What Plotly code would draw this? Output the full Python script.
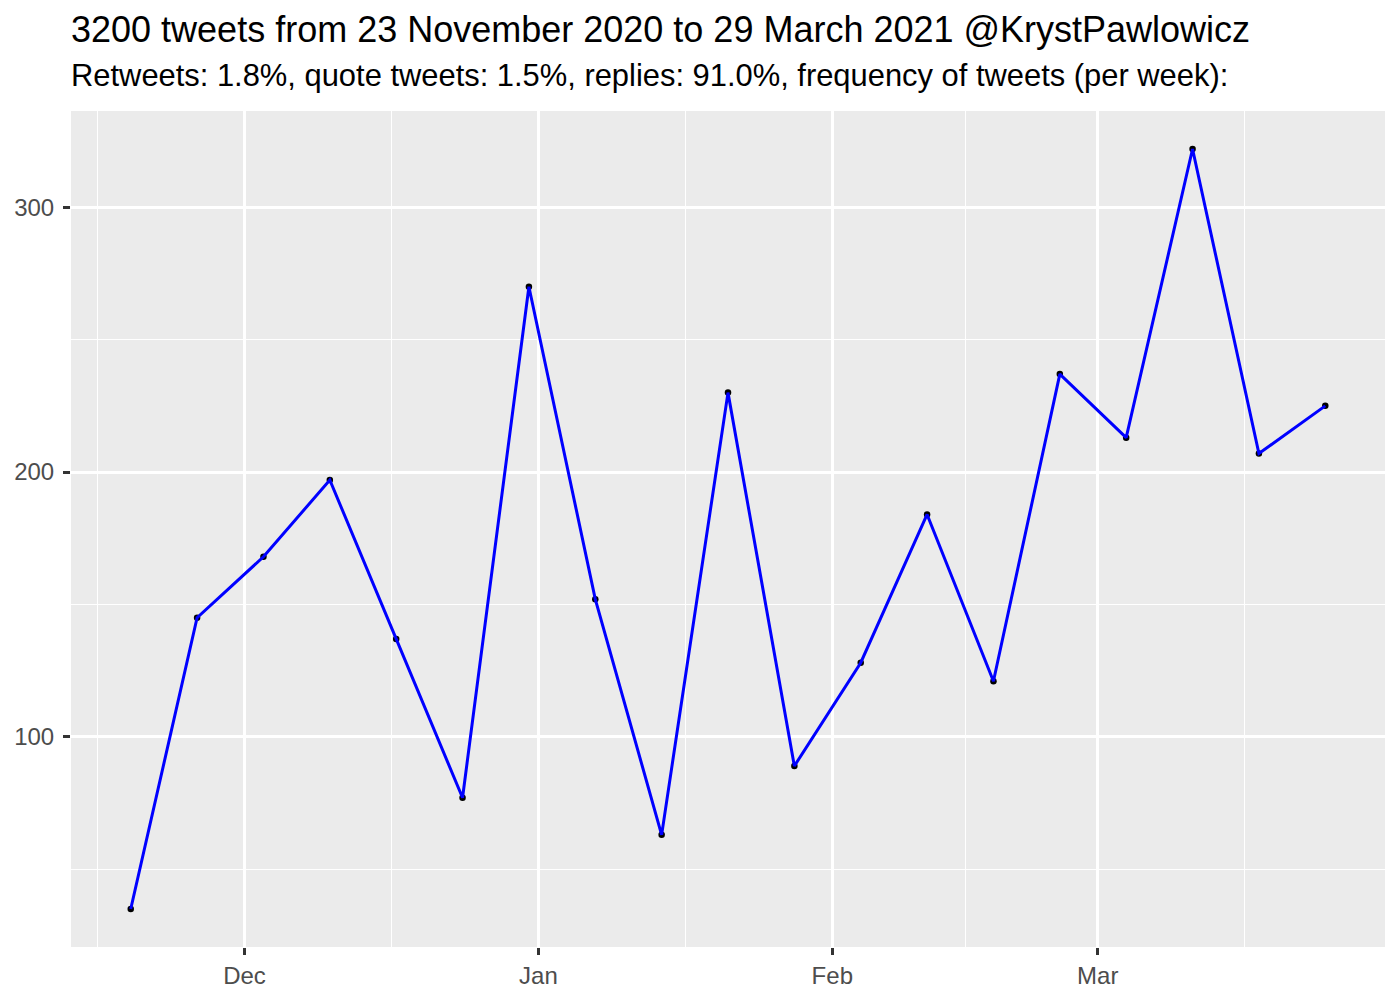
import datetime as dt
import plotly.graph_objects as go

# Data
start_week = dt.date(2020, 11, 19)
weekly_counts = [35, 145, 168, 197, 137, 77, 270, 152, 63, 230, 89, 128, 184, 121, 237, 213, 322, 207, 225]
week_dates = [start_week + dt.timedelta(days=7 * i) for i in range(len(weekly_counts))]

x_tick_vals = ["2020-12-01", "2021-01-01", "2021-02-01", "2021-03-01"]
x_tick_text = ["Dec", "Jan", "Feb", "Mar"]
x_minor_vals = ["2020-11-15 12:00", "2020-12-16 12:00", "2021-01-16 12:00", "2021-02-15", "2021-03-16 12:00"]
y_tick_vals = [100, 200, 300]
y_minor_vals = [50, 150, 250]

title_text = "3200 tweets from 23 November 2020 to 29 March 2021 @KrystPawlowicz"
subtitle_text = "Retweets: 1.8%, quote tweets: 1.5%, replies: 91.0%, frequency of tweets (per week):"

# ggplot-like 5% expansion
span_days = (week_dates[-1] - week_dates[0]).days
pad = dt.timedelta(days=span_days * 0.05)
x_range = [dt.datetime.combine(week_dates[0], dt.time()) - pad,
           dt.datetime.combine(week_dates[-1], dt.time()) + pad]
ymin, ymax = min(weekly_counts), max(weekly_counts)
ypad = (ymax - ymin) * 0.05
y_range = [ymin - ypad, ymax + ypad]

FONT = "Liberation Sans, Arial, Helvetica, sans-serif"

fig = go.Figure()
fig.add_trace(go.Scatter(x=week_dates, y=weekly_counts, mode="markers",
                         marker=dict(color="black", size=6.5), showlegend=False,
                         hoverinfo="skip"))
fig.add_trace(go.Scatter(x=week_dates, y=weekly_counts, mode="lines",
                         line=dict(color="#0000FF", width=3), showlegend=False))

fig.update_layout(
    width=1400, height=1000,
    margin=dict(l=71, r=15, t=111, b=53),
    paper_bgcolor="white",
    plot_bgcolor="#EBEBEB",
    font=dict(family=FONT, color="#4D4D4D"),
    xaxis=dict(
        type="date", range=x_range,
        tickmode="array", tickvals=x_tick_vals, ticktext=x_tick_text,
        ticks="outside", ticklen=7, tickwidth=2.5, tickcolor="#333333",
        tickfont=dict(size=24, color="#4D4D4D", family=FONT),
        showgrid=True, gridcolor="white", gridwidth=2.6,
        minor=dict(tickmode="array", tickvals=x_minor_vals, showgrid=True,
                   gridcolor="white", gridwidth=1.3, ticks=""),
        zeroline=False, showline=False,
    ),
    yaxis=dict(
        range=y_range,
        tickmode="array", tickvals=y_tick_vals,
        ticks="outside", ticklen=7, tickwidth=2.5, tickcolor="#333333",
        tickfont=dict(size=24, color="#4D4D4D", family=FONT),
        ticklabelstandoff=4,
        showgrid=True, gridcolor="white", gridwidth=2.6,
        minor=dict(tickmode="array", tickvals=y_minor_vals, showgrid=True,
                   gridcolor="white", gridwidth=1.3, ticks=""),
        zeroline=False, showline=False,
    ),
    annotations=[
        dict(text=title_text, xref="paper", yref="paper", x=0, y=(947 - 30) / 836,
             xanchor="left", yanchor="middle", showarrow=False, xshift=-2,
             font=dict(size=36, color="black", family=FONT)),
        dict(text=subtitle_text, xref="paper", yref="paper", x=0, y=(947 - 76) / 836,
             xanchor="left", yanchor="middle", showarrow=False, xshift=-2,
             font=dict(size=30.9, color="black", family=FONT)),
    ],
)

fig.write_html("out.html", config={"displayModeBar": False},
               post_script="document.body.style.margin='0px';")
